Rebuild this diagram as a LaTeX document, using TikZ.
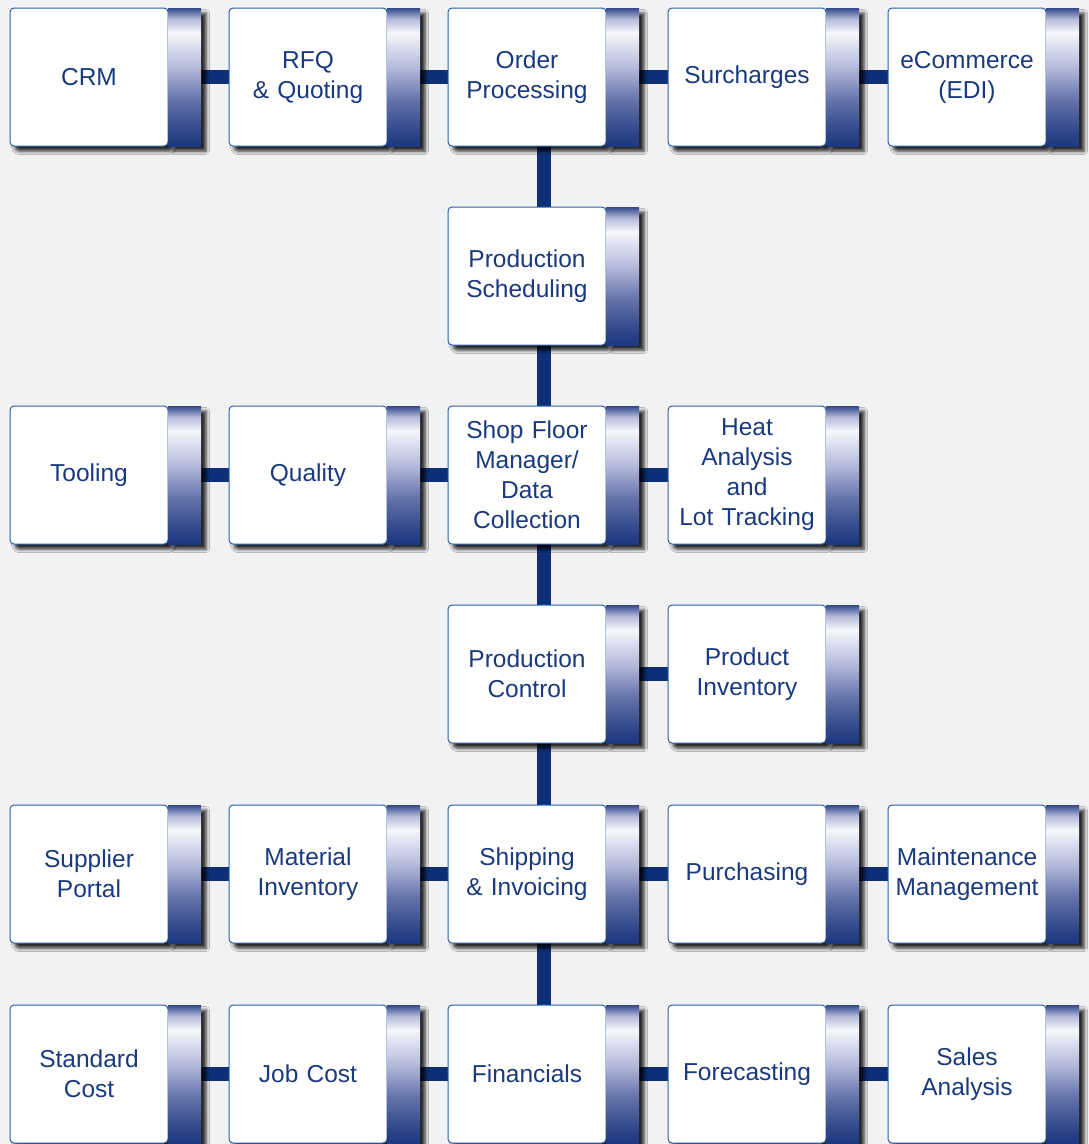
\documentclass[tikz,border=0pt]{standalone}
\usepackage{fontspec}
\setmainfont{Liberation Sans}
\usetikzlibrary{positioning,shadows.blur,backgrounds,calc}

\definecolor{paper}{HTML}{F2F2F4}
\definecolor{ink}{HTML}{1A3A7E}
\definecolor{edge}{HTML}{2860A8}
\definecolor{navy}{HTML}{0D2F78}
\definecolor{bartop}{HTML}{33498A}
\definecolor{barhi}{HTML}{F6F6FB}
\definecolor{barmid}{HTML}{B4BADB}
\definecolor{barlow}{HTML}{6472AA}
\definecolor{bardeep}{HTML}{2C4488}
\definecolor{barbot}{HTML}{1C3880}

\pgfdeclareverticalshading{barshade}{100bp}{color(0bp)=(barbot); color(25bp)=(barbot);
  color(29.5bp)=(bardeep); color(41.5bp)=(barlow); color(53.5bp)=(barmid);
  color(66bp)=(barhi); color(71bp)=(barmid); color(75bp)=(bartop); color(100bp)=(bartop)}

\tikzset{
  module/.style={draw=edge, line width=1pt, fill=white, rounded corners=4pt,
    minimum width=158pt, minimum height=138pt, text width=156pt, inner sep=0pt,
    outer sep=0pt, align=center, text=ink, font=\fontsize{24.5}{30}\selectfont,
    blur shadow={shadow xshift=5pt, shadow yshift=-5pt, shadow blur radius=3.5pt, shadow opacity=85}},
  bar/.style={shading=barshade, minimum width=33pt, minimum height=138pt,
    inner sep=0pt, outer sep=0pt,
    blur shadow={shadow xshift=5pt, shadow yshift=-5pt, shadow blur radius=3.5pt, shadow opacity=85}},
  link/.style={line width=14pt, color=navy}
}

\begin{document}
\begin{tikzpicture}[x=1pt, y=-1pt]
    \useasboundingbox (0,0) rectangle (1089,1144);

    % top row
    \node[module] (crm)   at (89, 77)  {CRM};
    \node[module] (rfq)   at (308, 77) {RFQ\\\& Quoting};
    \node[module] (order) at (527, 77) {Order\\Processing};
    \node[module] (surch) at (747, 77) {Surcharges};
    \node[module] (ecom)  at (967, 77) {eCommerce\\(EDI)};

    \node[module] (sched) at (527, 276) {Production\\Scheduling};

    % shop floor row
    \node[module] (tool)  at (89, 475)  {Tooling};
    \node[module] (qual)  at (308, 475) {Quality};
    \node[module] (shop)  at (527, 475) {Shop Floor\\Manager/\\Data\\Collection};
    \node[module] (heat)  at (747, 475) {Heat\\Analysis\\and\\Lot Tracking};

    \node[module] (pctrl) at (527, 674) {Production\\Control};
    \node[module] (pinv)  at (747, 674) {Product\\Inventory};

    % shipping row
    \node[module] (supp)  at (89, 874)  {Supplier\\Portal};
    \node[module] (mat)   at (308, 874) {Material\\Inventory};
    \node[module] (ship)  at (527, 874) {Shipping\\\& Invoicing};
    \node[module] (purch) at (747, 874) {Purchasing};
    \node[module] (maint) at (967, 874) {Maintenance\\Management};

    % bottom row
    \node[module] (stdc)  at (89, 1074)  {Standard\\Cost};
    \node[module] (jobc)  at (308, 1074) {Job Cost};
    \node[module] (fin)   at (527, 1074) {Financials};
    \node[module] (fcst)  at (747, 1074) {Forecasting};
    \node[module] (sales) at (967, 1074) {Sales\\Analysis};

    % shaded bars
    \foreach \n in {crm,rfq,order,surch,ecom,sched,tool,qual,shop,heat,pctrl,pinv,
                    supp,mat,ship,purch,maint,stdc,jobc,fin,fcst,sales}
        \node[bar, right=0pt of \n] (\n-b) {};

    \begin{pgfonlayer}{background}
        \fill[paper] (0,0) rectangle (1089,1144);

        \draw[link] (crm-b) -- (rfq);
        \draw[link] (rfq-b) -- (order);
        \draw[link] (order-b) -- (surch);
        \draw[link] (surch-b) -- (ecom);

        \draw[link] (tool-b) -- (qual);
        \draw[link] (qual-b) -- (shop);
        \draw[link] (shop-b) -- (heat);

        \draw[link] (pctrl-b) -- (pinv);

        \draw[link] (supp-b) -- (mat);
        \draw[link] (mat-b) -- (ship);
        \draw[link] (ship-b) -- (purch);
        \draw[link] (purch-b) -- (maint);

        \draw[link] (stdc-b) -- (jobc);
        \draw[link] (jobc-b) -- (fin);
        \draw[link] (fin-b) -- (fcst);
        \draw[link] (fcst-b) -- (sales);

        % spine
        \draw[link] ($(order.west)!.5!(order-b.east)$) -- ($(sched.west)!.5!(sched-b.east)$);
        \draw[link] ($(sched.west)!.5!(sched-b.east)$) -- ($(shop.west)!.5!(shop-b.east)$);
        \draw[link] ($(shop.west)!.5!(shop-b.east)$) -- ($(pctrl.west)!.5!(pctrl-b.east)$);
        \draw[link] ($(pctrl.west)!.5!(pctrl-b.east)$) -- ($(ship.west)!.5!(ship-b.east)$);
        \draw[link] ($(ship.west)!.5!(ship-b.east)$) -- ($(fin.west)!.5!(fin-b.east)$);
    \end{pgfonlayer}
\end{tikzpicture}
\end{document}
